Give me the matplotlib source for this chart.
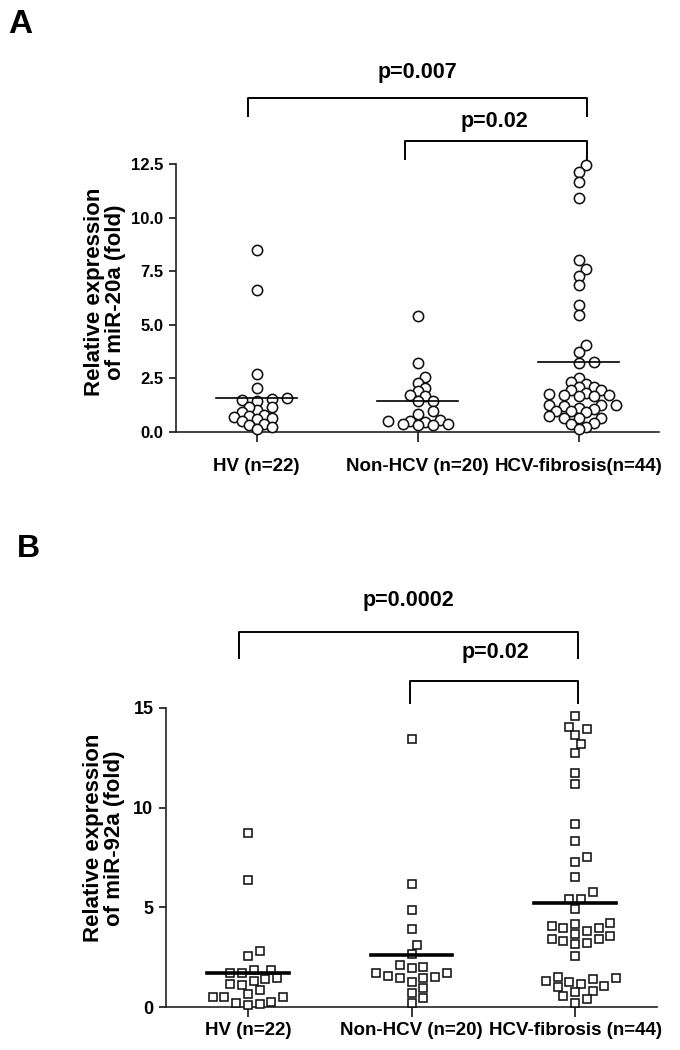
import numpy as np
import matplotlib
matplotlib.use("Agg")
import matplotlib.pyplot as plt

plt.rcParams['font.family'] = ['Liberation Sans', 'DejaVu Sans']
plt.rcParams['font.weight'] = 'bold'

groups_a = ["HV (n=22)", "Non-HCV (n=20)", "HCV-fibrosis(n=44)"]
groups_b = ["HV (n=22)", "Non-HCV (n=20)", "HCV-fibrosis (n=44)"]

# miR-20a (panel A)
hv_20a = [8.50, 6.62, 2.71, 2.04, 1.60, 1.48, 1.54, 1.45, 1.15, 1.04, 1.17,
          0.92, 0.81, 0.75, 0.68, 0.65, 0.61, 0.50, 0.39, 0.34, 0.25, 0.16]
non_20a = [5.39, 3.22, 2.55, 2.30, 2.05, 1.91, 1.71, 1.67, 1.45, 1.45,
           0.97, 0.86, 0.54, 0.53, 0.47, 0.39, 0.39, 0.50, 0.33, 0.31]
hcv_20a = [12.45, 12.11, 11.64, 10.93, 8.03, 7.61, 7.29, 6.86, 5.92, 5.46,
           4.06, 3.75, 3.24, 3.28, 2.51, 2.35, 2.26, 2.09, 2.12, 1.98, 1.95,
           1.84, 1.79, 1.73, 1.73, 1.70, 1.67, 1.26, 1.28, 1.26, 1.23, 1.12,
           1.09, 0.98, 0.92, 0.98, 0.75, 0.67, 0.64, 0.64, 0.42, 0.39, 0.25, 0.12]
mean_20a = [1.60, 1.46, 3.25]

# miR-92a (panel B)
hv_92a = [8.75, 6.37, 2.81, 2.54, 1.86, 1.87, 1.69, 1.71, 1.42, 1.30, 1.44,
          1.12, 1.17, 0.84, 0.65, 0.50, 0.48, 0.48, 0.25, 0.22, 0.15, 0.10]
non_92a = [13.43, 6.19, 4.87, 3.90, 3.09, 2.68, 2.09, 1.94, 1.99, 1.69,
           1.72, 1.56, 1.44, 1.44, 1.49, 1.25, 0.94, 0.70, 0.43, 0.18]
hcv_92a = [14.62, 13.96, 14.05, 13.63, 13.21, 12.74, 11.74, 11.20, 9.18,
           8.33, 7.54, 7.26, 6.50, 5.79, 5.40, 5.43, 4.92, 4.16, 4.23, 4.08,
           3.98, 3.96, 3.80, 3.66, 3.58, 3.39, 3.43, 3.31, 3.19, 3.16, 2.54,
           1.52, 1.44, 1.42, 1.27, 1.29, 1.15, 1.07, 1.02, 0.82, 0.75, 0.57,
           0.42, 0.22]
mean_92a = [1.71, 2.63, 5.20]

p_a = ["p=0.007", "p=0.02"]
p_b = ["p=0.0002", "p=0.02"]


def swarm(vals, center, ppx, ppy, diam, step):
    """simple beeswarm: x offsets (data units) so markers don't pile up"""
    vals = np.asarray(vals)
    xs = np.zeros(len(vals))
    placed = []
    cands = [0.0]
    for j in range(1, 20):
        cands += [j * step, -j * step]
    for i in np.argsort(vals):
        y = vals[i] * ppy
        for off in cands:
            if all((off - px) ** 2 + (y - py) ** 2 >= diam ** 2 for px, py in placed):
                break
        placed.append((off, y))
        xs[i] = center + off / ppx
    return xs


def panel(ax, data, means, labels, ylim, yticks, yfmt, marker, ms, diam, step, mlw,
          ticksize, labsize, labpad):
    ax.set_xlim(-0.5, 2.5)
    ax.set_ylim(0, ylim)
    fig = ax.figure
    bb = ax.get_position()
    ppx = bb.width * fig.get_figwidth() * fig.dpi / 3.0
    ppy = bb.height * fig.get_figheight() * fig.dpi / ylim
    for g, vals in enumerate(data):
        xs = swarm(vals, g, ppx, ppy, diam, step)
        ax.plot(xs, vals, ls="none", marker=marker, ms=ms, mfc="white", mec="#111",
                mew=1.15, clip_on=False, zorder=3)
        ax.plot([g - 0.25, g + 0.25], [means[g]] * 2, c="black", lw=mlw, zorder=4)
    for s in ["top", "right"]:
        ax.spines[s].set_visible(False)
    for s in ["left", "bottom"]:
        ax.spines[s].set_linewidth(1.2)
        ax.spines[s].set_color("#222")
    ax.set_yticks(yticks)
    ax.set_yticklabels([yfmt.format(t) for t in yticks], fontsize=ticksize, fontweight="bold")
    ax.set_xticks([0, 1, 2])
    ax.set_xticklabels(labels, fontsize=labsize, fontweight="bold")
    ax.tick_params(axis="y", length=5, width=1.1, pad=4)
    ax.tick_params(axis="x", length=7, width=1.1, pad=labpad)


def bracket(ax, x0, x1, y, yleg, text, tx, ty):
    ax.plot([x0, x0, x1, x1], [yleg, y, y, yleg], c="black", lw=1.4, clip_on=False)
    ax.text(tx, ty, text, ha="center", va="center", fontsize=15.5, fontweight="bold")


fig = plt.figure(figsize=(6.8, 10.5), dpi=100)
W, H = 680.0, 1050.0

ax_a = fig.add_axes([176 / W, 1 - 432 / H, 483 / W, 268 / H])
panel(ax_a, [hv_20a, non_20a, hcv_20a], mean_20a, groups_a, 12.5,
      [0, 2.5, 5, 7.5, 10, 12.5], "{:.1f}", "o", 7.4, 8.0, 7.5, 1.2, 12, 13.5, 12)
bracket(ax_a, -0.05, 2.05, 15.59, 14.74, p_a[0], 1.0, 16.79)
bracket(ax_a, 0.92, 2.05, 13.57, 12.73, p_a[1], 1.48, 14.5)

ax_b = fig.add_axes([166 / W, 1 - 1007 / H, 491 / W, 299 / H])
panel(ax_b, [hv_92a, non_92a, hcv_92a], mean_92a, groups_b, 15,
      [0, 5, 10, 15], "{:.0f}", "s", 6.0, 9.8, 5.85, 2.6, 13, 13.5, 4)
bracket(ax_b, -0.055, 2.02, 18.82, 17.51, p_b[0], 0.98, 20.37)
bracket(ax_b, 0.99, 2.02, 16.36, 15.25, p_b[1], 1.51, 17.76)

fig.text(105 / W, 1 - 292 / H, "Relative expression\nof miR-20a (fold)", rotation=90,
         ha="center", va="center", fontsize=16, fontweight="bold", linespacing=1.05)
fig.text(104 / W, 1 - 838 / H, "Relative expression\nof miR-92a (fold)", rotation=90,
         ha="center", va="center", fontsize=16, fontweight="bold", linespacing=1.05)

fig.text(8 / W, 1 - 33 / H, "A", fontsize=24, fontweight="bold", va="baseline")
fig.text(17 / W, 1 - 557 / H, "B", fontsize=23, fontweight="bold", va="baseline")

fig.savefig("out.png", dpi=100)
